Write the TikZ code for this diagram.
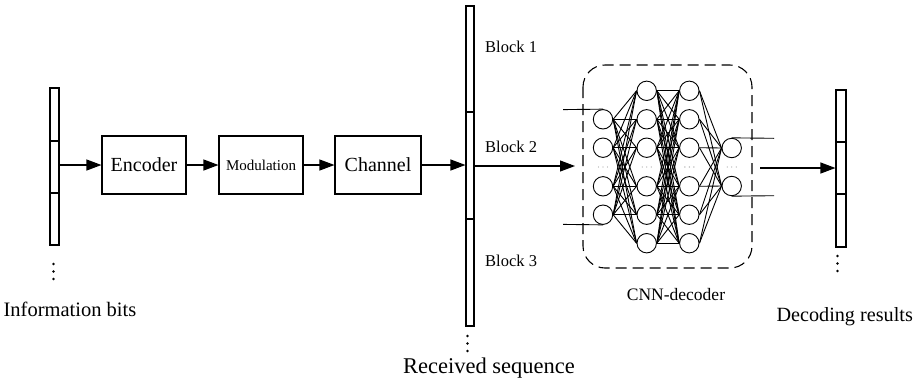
\documentclass[tikz,border=0pt]{standalone}
\usepackage{fontspec}
\setmainfont{Liberation Serif}
\usetikzlibrary{arrows.meta}
\newcommand{\fs}[1]{\fontsize{#1}{#1}\selectfont}
\tikzset{
  boxnode/.style={draw, line width=1.1pt, inner sep=0pt, minimum width=84pt, minimum height=58pt},
  barnode/.style={draw, line width=1.1pt, inner sep=0pt},
  arr/.style={line width=1.1pt, -{Triangle[length=15pt,width=11pt]}},
  neuron/.style={circle, draw, line width=0.9pt, inner sep=0pt, minimum size=19.4pt},
  wire/.style={line width=0.9pt},
  lbl/.style={inner sep=0pt, anchor=base},
  vdot/.style={fill=black, circle, inner sep=0pt, minimum size=2.8pt},
  gdot/.style={fill=gray!70, circle, inner sep=0pt, minimum size=1.4pt}
}
\begin{document}
\begin{tikzpicture}[x=1pt, y=-1pt]
\useasboundingbox (0,0) rectangle (920,389);

% ---- information bits column ----
\node[barnode, minimum width=9pt, minimum height=157pt] (bits) at (54.5,166.5) {};
\draw[line width=1.1pt] (bits.west |- 0,141) -- (bits.east |- 0,141)
      (bits.west |- 0,193) -- (bits.east |- 0,193);
\foreach \yy [count=\i] in {264,271.5,279} \node[vdot] (bd\i) at (53.5,\yy) {};
\node[lbl] (bitslbl) at (70,316) {\fs{20.5}Information bits};

% ---- processing chain ----
\node[boxnode] (enc) at (144,165) {\fs{20}Encoder};
\node[boxnode] (mod) at (261,165) {\fs{15}Modulation};
\node[boxnode, minimum width=86pt] (chan) at (378,165) {\fs{20}Channel};

% ---- received sequence column ----
\node[barnode, minimum width=8pt, minimum height=320pt] (recv) at (470,166) {};
\draw[line width=1.1pt] (recv.west |- 0,112) -- (recv.east |- 0,112)
      (recv.west |- 0,219) -- (recv.east |- 0,219);
\foreach \yy [count=\i] in {336,343.5,351} \node[vdot] (rd\i) at (467.5,\yy) {};
\node[lbl, anchor=base west] (blk1) at (485,52) {\fs{16.5}Block 1};
\node[lbl, anchor=base west] (blk2) at (485,152) {\fs{16.5}Block 2};
\node[lbl, anchor=base west] (blk3) at (485,266.5) {\fs{16.5}Block 3};
\node[lbl] (recvlbl) at (489,373) {\fs{22.5}Received sequence};

\draw[arr] (bits.east |- enc.west) -- (enc.west);
\draw[arr] (enc) -- (mod);
\draw[arr] (mod) -- (chan);
\draw[arr] (chan.east) -- (chan.east -| recv.west);

% ---- CNN decoder ----
\draw[line width=1.1pt, dash pattern=on 11pt off 6pt, rounded corners=22pt]
  (583,65) rectangle (752,268);
\node[lbl] (cnnlbl) at (676,300.5) {\fs{17.5}CNN-decoder};

\foreach \yy [count=\i] in {119.3,147.7,186.3,214.7} \node[neuron] (a\i) at (603,\yy) {};
\foreach \yy [count=\i] in {90.8,119.3,147.7,186.3,214.7,243.2} {
  \node[neuron] (b\i) at (646.7,\yy) {};
  \node[neuron] (c\i) at (689.3,\yy) {};
}
\foreach \yy [count=\i] in {148,186} \node[neuron] (d\i) at (731.7,\yy) {};

\foreach \i in {1,...,4} \foreach \j in {1,...,6} \draw[wire] (a\i.east) -- (b\j.west);
\foreach \i in {1,...,6} \foreach \j in {1,...,6} \draw[wire] (b\i.east) -- (c\j.west);
\foreach \i in {1,...,6} \foreach \j in {1,2} \draw[wire] (c\i.east) -- (d\j.west);

% elided neurons
\foreach \xx [count=\k] in {603,646.7,689.3,731.7}
  \foreach \dx [count=\m] in {-4.5,0,4.5} \node[gdot] (e\k\m) at (\xx+\dx,167) {};

% network inputs and outputs
\coordinate (inT) at (563,109.6);
\coordinate (inB) at (563,224.4);
\coordinate (outT) at (774,138.3);
\coordinate (outB) at (774,195.7);
\draw[wire] (inT) -- (a1.north);
\draw[wire] (inB) -- (a4.south);
\draw[wire] (d1.north) -- (outT);
\draw[wire] (d2.south) -- (outB);

% ---- decoding results column ----
\node[barnode, minimum width=10pt, minimum height=157pt] (dec) at (841,168.5) {};
\draw[line width=1.1pt] (dec.west |- 0,142) -- (dec.east |- 0,142)
      (dec.west |- 0,194) -- (dec.east |- 0,194);
\foreach \yy [count=\i] in {256,263.5,271} \node[vdot] (dd\i) at (837.5,\yy) {};
\node[lbl] (declbl) at (844.7,321) {\fs{20.2}Decoding results};

% data flow into and out of the decoder
\coordinate (netin) at (575,166);
\coordinate (netout) at (760,168);
\draw[arr] (recv.east |- netin) -- (netin);
\draw[arr] (netout) -- (netout -| dec.west);
\end{tikzpicture}
\end{document}
